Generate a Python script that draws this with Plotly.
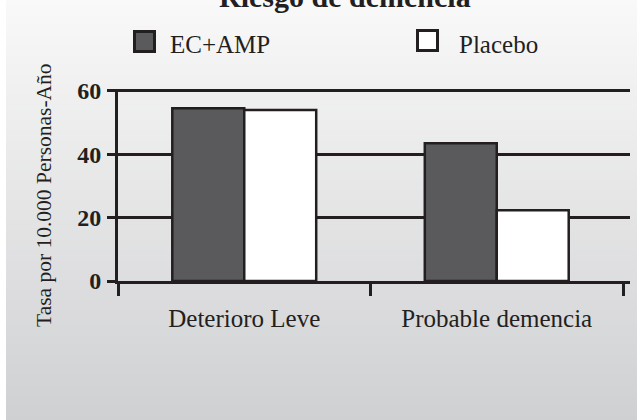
import plotly.graph_objects as go

# ---- data ----
categories = ["Deterioro Leve", "Probable demencia"]
series_names = ["EC+AMP", "Placebo"]
ec_amp = [54.5, 43.5]
placebo = [54.0, 22.3]
y_ticks = [0, 20, 40, 60]
title_text = "Riesgo de demencia"
y_title = "Tasa por 10.000 Personas-Año"

# ---- layout geometry / style ----
W, H = 637, 420
L, R, T, B = 118, 7, 89, 139
pw, ph = W - L - R, H - T - B
FONT = "Liberation Serif"
INK = "#231f20"
DARK = "#5a5a5c"


def px_x(px):
    return (px - L) / pw


def px_y(py):
    return (H - B - py) / ph


fig = go.Figure()
fig.add_trace(go.Bar(x=categories, y=ec_amp, name=series_names[0],
                     marker=dict(color=DARK, line=dict(color=INK, width=2.5))))
fig.add_trace(go.Bar(x=categories, y=placebo, name=series_names[1],
                     marker=dict(color="white", line=dict(color=INK, width=2.5))))

shapes = []
# gradient background bands
n = 84
top_c, bot_c = (249, 249, 249), (207, 208, 210)
for i in range(n):
    f = (i + 0.5) / n
    c = tuple(round(top_c[k] + (bot_c[k] - top_c[k]) * f) for k in range(3))
    y0p = i * H / n
    y1p = (i + 1) * H / n + 0.6
    shapes.append(dict(type="rect", xref="paper", yref="paper", layer="below",
                       x0=px_x(6), x1=px_x(W + 2), y0=px_y(y1p), y1=px_y(y0p),
                       line=dict(width=0), fillcolor="rgb(%d,%d,%d)" % c))

# legend squares
leg = [(133, 30, DARK), (416, 29, "white")]
for (lx, ly, col) in leg:
    shapes.append(dict(type="rect", xref="paper", yref="paper",
                       x0=px_x(lx + 1.5), x1=px_x(lx + 21.5),
                       y0=px_y(ly + 21.5), y1=px_y(ly + 1.5),
                       line=dict(color=INK, width=3), fillcolor=col))

annotations = [
    dict(text="<b>" + title_text + "</b>", xref="paper", yref="paper",
         x=px_x(345), y=px_y(-3), xanchor="center", yanchor="middle",
         showarrow=False, font=dict(family=FONT, size=30, color=INK)),
    dict(text=series_names[0], xref="paper", yref="paper",
         x=px_x(168), y=px_y(45), xanchor="left", yanchor="middle",
         showarrow=False, font=dict(family=FONT, size=25, color=INK)),
    dict(text=series_names[1], xref="paper", yref="paper",
         x=px_x(457), y=px_y(44), xanchor="left", yanchor="middle",
         showarrow=False, font=dict(family=FONT, size=25, color=INK)),
    dict(text=y_title, xref="paper", yref="paper", textangle=-90,
         x=px_x(44), y=px_y(195), xanchor="center", yanchor="middle",
         showarrow=False, font=dict(family=FONT, size=21.5, color=INK)),
]

fig.update_layout(
    width=W, height=H,
    margin=dict(l=L, r=R, t=T, b=B, pad=0),
    paper_bgcolor="white", plot_bgcolor="rgba(0,0,0,0)",
    barmode="group", bargap=0.43, bargroupgap=0,
    showlegend=False,
    shapes=shapes, annotations=annotations,
    font=dict(family=FONT, color=INK),
)
fig.update_xaxes(
    type="category", range=[-0.5, 1.5 + 7 / (505 / 2)],
    showline=True, linecolor=INK, linewidth=3,
    ticks="outside", tickson="boundaries", ticklen=12, tickwidth=3, tickcolor=INK,
    showgrid=False, zeroline=False,
    tickfont=dict(family=FONT, size=25, color=INK),
    ticklabelstandoff=13,
)
fig.update_yaxes(
    range=[0, 60.6], tickvals=y_ticks, ticktext=[str(v) for v in y_ticks],
    showline=True, linecolor=INK, linewidth=3,
    ticks="outside", ticklen=8, tickwidth=3, tickcolor=INK,
    showgrid=True, gridcolor=INK, gridwidth=3, zeroline=False,
    tickfont=dict(family=FONT, size=24, color=INK, weight="bold"),
    ticklabelstandoff=1,
)

fig.write_html("out.html")
